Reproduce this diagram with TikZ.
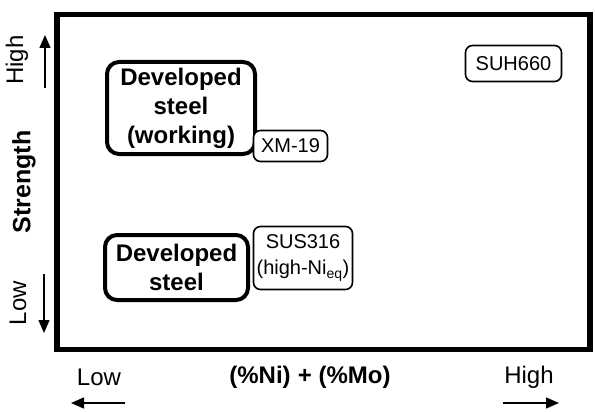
\documentclass[tikz,border=0pt]{standalone}
\usepackage{fontspec}
\setmainfont{Liberation Sans}
\usetikzlibrary{arrows.meta}
\begin{document}
\begin{tikzpicture}[x=1pt,y=-1pt,
  bigbox/.style={draw,line width=4pt,rounded corners=12pt,align=center,inner sep=0pt,font=\bfseries\fontsize{24}{29}\selectfont},
  smallbox/.style={draw,fill=white,line width=1.6pt,rounded corners=7pt,align=center,inner sep=0pt,font=\fontsize{20}{26}\selectfont},
  axlabel/.style={font=\fontsize{24}{28}\selectfont,inner sep=0pt},
  axarrow/.style={line width=1.3pt,-{Triangle[length=13pt,width=11pt]}}]
\useasboundingbox (0,0) rectangle (595,412);
\node[draw,line width=5.5pt,minimum width=533pt,minimum height=335pt,inner sep=0pt] (frame) at (323.5,182) {};
% boxes
\node[bigbox,minimum width=148pt,minimum height=92pt] (dsw) at (181,108) {Developed\\steel\\(working)};
\node[smallbox,minimum width=74pt,minimum height=31pt] (xm) at (290.5,146) {XM-19};
\node[bigbox,minimum width=143pt,minimum height=65pt] (ds) at (176.5,267.5) {Developed\\steel};
\node[smallbox,minimum width=99pt,minimum height=63pt] (sus) at (303,258) {SUS316\\(high-Ni\textsubscript{eq})};
\node[smallbox,minimum width=96pt,minimum height=36pt] (suh) at (513.5,63.5) {SUH660};
% vertical axis
\node[axlabel,rotate=90] (yhigh) at (17,60) {High};
\node[axlabel,rotate=90,font=\bfseries\fontsize{25}{28}\selectfont] (ystr) at (24,182) {Strength};
\node[axlabel,rotate=90] (ylow) at (18,303) {Low};
\coordinate (uh0) at (45,88);
\coordinate (uh1) at (45,35);
\coordinate (ul0) at (44,274);
\coordinate (ul1) at (44,333);
\draw[axarrow] (uh0) -- (uh1);
\draw[axarrow] (ul0) -- (ul1);
% horizontal axis
\node[axlabel] (xlow) at (99,377) {Low};
\node[axlabel,font=\bfseries\fontsize{24}{28}\selectfont] (xlab) at (310,377) {(\%Ni)\hspace{0.3em}+ (\%Mo)};
\node[axlabel] (xhigh) at (529,377) {High};
\coordinate (al0) at (125,403);
\coordinate (al1) at (71,403);
\coordinate (ar0) at (503,403);
\coordinate (ar1) at (559,403);
\draw[axarrow] (al0) -- (al1);
\draw[axarrow] (ar0) -- (ar1);
\end{tikzpicture}
\end{document}
